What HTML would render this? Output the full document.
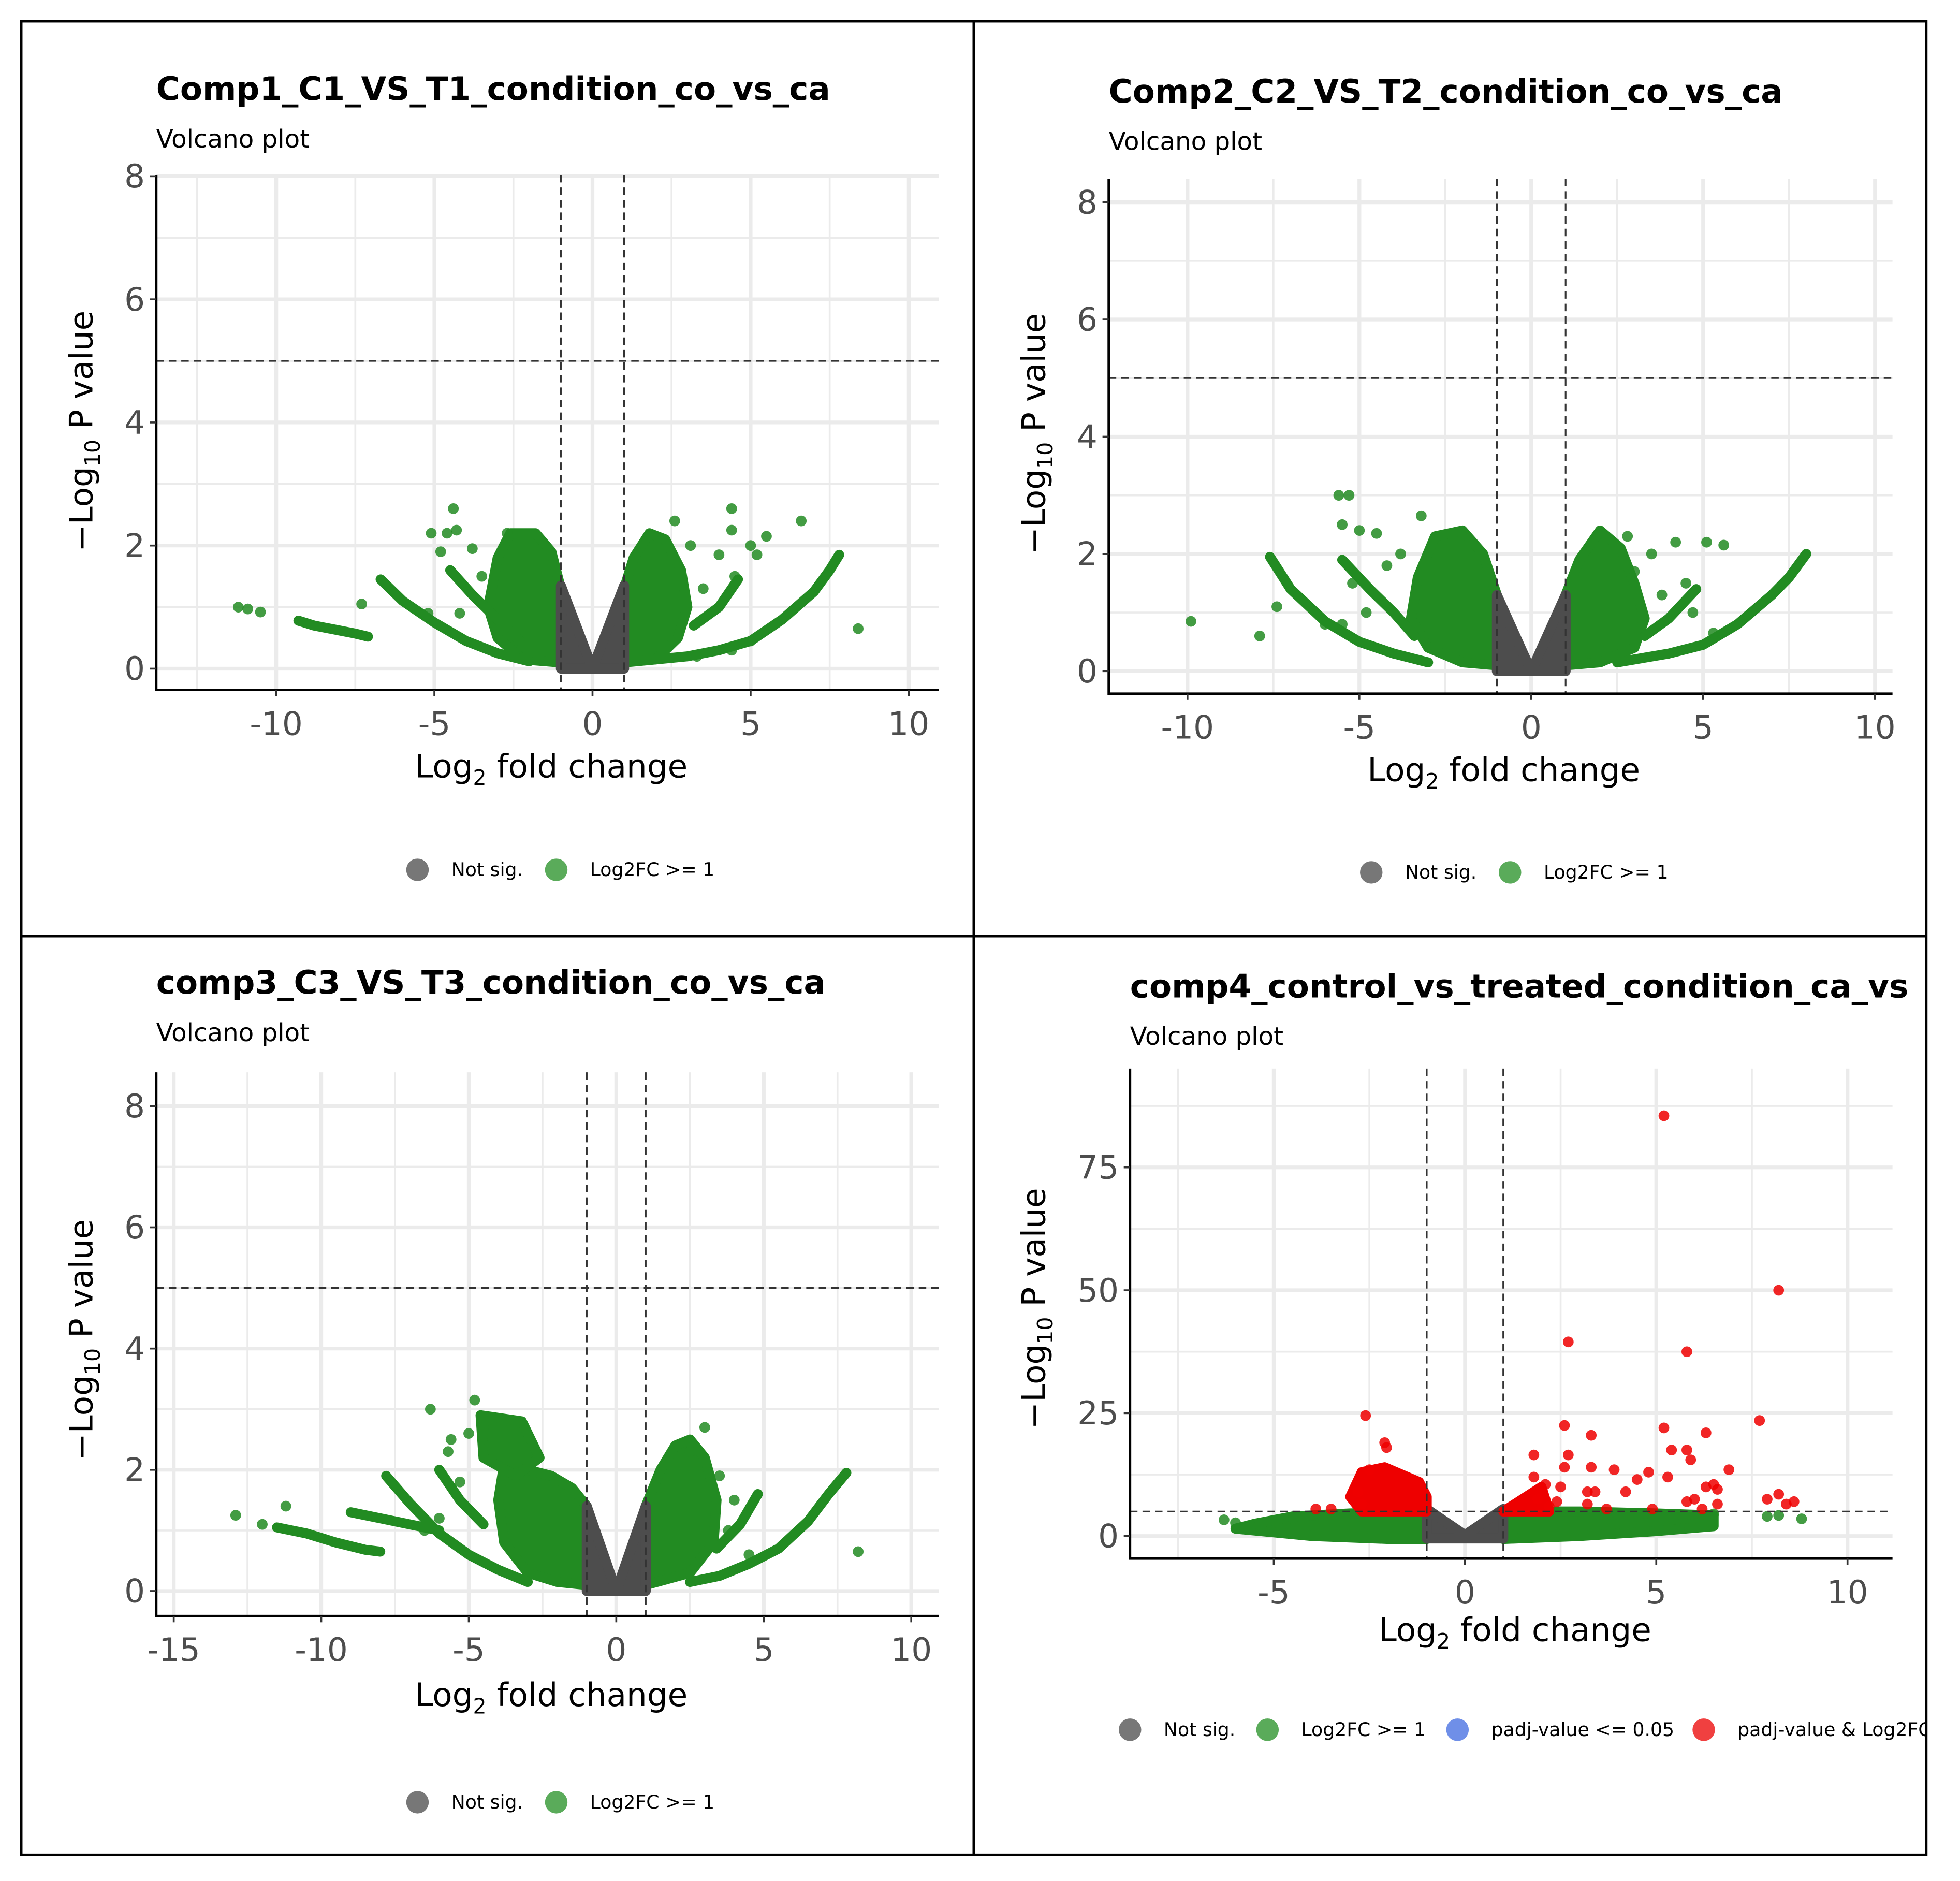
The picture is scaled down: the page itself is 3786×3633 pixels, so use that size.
<!DOCTYPE html>
<html><head><meta charset="utf-8"><style>
html,body{margin:0;padding:0;background:#fff}
svg{display:block}
text{font-family:"DejaVu Sans","Liberation Sans",sans-serif}
</style></head><body>
<svg id="root" xmlns="http://www.w3.org/2000/svg" width="3786" height="3633" viewBox="0 0 1568 1505" preserveAspectRatio="none">
<defs><clipPath id="clipR"><rect x="0" y="0" width="1540" height="1505"/></clipPath></defs>
<rect x="0" y="0" width="1568" height="1505" fill="#fff"/>
<rect x="17" y="17" width="1524" height="1467" fill="#fff" stroke="#000" stroke-width="2"/>
<line x1="779" y1="17" x2="779" y2="1484" stroke="#000" stroke-width="2"/>
<line x1="17" y1="749" x2="1541" y2="749" stroke="#000" stroke-width="2"/>
</svg>
<script>
// ---------- Panel 1 data ----------
const p1Xticks=[-10,-5,0,5,10];
const p1Yticks=[0,2,4,6,8];
const p1Grey=[[-1,1.35],[0,0],[1,1.35],[1,0],[-1,0]];
const p1ClusterL=[[-1,1.3],[-1.3,1.9],[-1.8,2.2],[-2.6,2.2],[-3,1.8],[-3.3,1.0],[-3,0.5],[-2.2,0.15],[-1,0.1]];
const p1ClusterR=[[1,1.3],[1.3,1.8],[1.8,2.2],[2.3,2.1],[2.8,1.6],[3.0,1.0],[2.7,0.5],[2,0.15],[1,0.1]];
const p1Arcs=[
 [[-6.7,1.45],[-6,1.1],[-5,0.75],[-4,0.45],[-3,0.25],[-2,0.12]],
 [[-4.5,1.6],[-3.8,1.2],[-3,0.8],[-2.3,0.45]],
 [[-9.3,0.78],[-8.8,0.7],[-8,0.62],[-7.5,0.57],[-7.1,0.52]],
 [[2,0.15],[3,0.2],[4,0.3],[5,0.45],[6,0.8],[7,1.25],[7.5,1.6],[7.8,1.85]],
 [[3.2,0.7],[4,1.0],[4.6,1.45]]];
const p1Pts=[[-11.2,1.0],[-10.9,0.97],[-10.5,0.92],[-7.3,1.05],[-5.1,2.2],[-4.4,2.6],[-4.6,2.2],[-4.3,2.25],[-4.8,1.9],[-3.8,1.95],[-5.2,0.9],[-4.2,0.9],[-3.5,1.5],[-2.7,2.2],
 [8.4,0.65],[4.4,2.6],[6.6,2.4],[5.5,2.15],[4.4,2.25],[5,2.0],[5.2,1.85],[2.6,2.4],[3.1,2.0],[4.5,1.5],[4,1.85],[3.5,1.3],[4.4,0.3],[5,0.45],[3.3,0.2]];
// ---------- Panel 2 data ----------
const p2Xticks=[-10,-5,0,5,10];
const p2Yticks=[0,2,4,6,8];
const p2Grey=[[-1,1.3],[0,0],[1,1.3],[1,0],[-1,0]];
const p2ClusterL=[[-1,1.3],[-1.4,2],[-2,2.4],[-2.8,2.3],[-3.3,1.6],[-3.5,0.9],[-3,0.4],[-2,0.15],[-1,0.1]];
const p2ClusterR=[[1,1.3],[1.4,1.9],[2,2.4],[2.6,2.1],[3,1.5],[3.3,0.9],[3,0.4],[2,0.15],[1,0.1]];
const p2Arcs=[
 [[-7.6,1.95],[-7,1.4],[-6,0.85],[-5,0.5],[-4,0.3],[-3,0.15]],
 [[-5.5,1.9],[-4.7,1.4],[-4,1.0],[-3.4,0.6]],
 [[2.5,0.15],[4,0.3],[5,0.45],[6,0.8],[7,1.3],[7.5,1.6],[8,2.0]],
 [[3.3,0.6],[4,0.9],[4.8,1.4]]];
const p2Pts=[[-9.9,0.85],[-7.9,0.6],[-7.4,1.1],[-5.6,3.0],[-5.3,3.0],[-5.5,2.5],[-4.5,2.35],[-3.2,2.65],[-5,2.4],[-5.2,1.5],[-4.8,1.0],[-4.2,1.8],[-6,0.8],[-5.5,0.8],[-3.8,2.0],
 [2.8,2.3],[3.5,2.0],[3,1.7],[4.2,2.2],[5.6,2.15],[5.1,2.2],[4.5,1.5],[3.8,1.3],[4.7,1.0],[5.3,0.65]];
// ---------- Panel 3 data ----------
const p3Xticks=[-15,-10,-5,0,5,10];
const p3Yticks=[0,2,4,6,8];
const p3Grey=[[-1,1.4],[0,0],[1,1.4],[1,0],[-1,0]];
const p3ClusterL=[[-1,1.4],[-1.5,1.7],[-2.2,1.9],[-3.8,2.1],[-4,1.5],[-3.8,0.8],[-3,0.3],[-2,0.15],[-1,0.1]];
const p3ClusterU=[[-4.6,2.9],[-3.2,2.8],[-2.6,2.2],[-3.4,1.9],[-4.5,2.2]];
const p3ClusterR=[[1,1.4],[1.5,2.0],[2,2.4],[2.5,2.5],[3,2.2],[3.4,1.5],[3.3,0.8],[2.5,0.3],[1,0.1]];
const p3Arcs=[
 [[-7.8,1.9],[-7,1.45],[-6,0.95],[-5,0.6],[-4,0.35],[-3,0.15]],
 [[-11.5,1.05],[-10.5,0.95],[-9.5,0.8],[-8.5,0.68],[-8,0.65]],
 [[-9,1.3],[-8,1.2],[-7,1.1],[-6,1.0]],
 [[-6,2.0],[-5.3,1.5],[-4.5,1.1]],
 [[2.5,0.15],[3.5,0.25],[4.5,0.45],[5.5,0.7],[6.5,1.15],[7.2,1.6],[7.8,1.95]],
 [[3.4,0.7],[4.2,1.1],[4.8,1.6]]];
const p3Pts=[[-12.9,1.25],[-12,1.1],[-11.2,1.4],[-6.3,3.0],[-5.7,2.3],[-5.6,2.5],[-4.8,3.15],[-5,2.6],[-4.5,2.7],[-4.3,2.4],[-5.3,1.8],[-6,1.2],[-6.5,1.0],
 [8.2,0.65],[3,2.7],[2.5,2.3],[3.5,1.9],[4,1.5],[3.8,1.0],[4.5,0.6]];
// ---------- Panel 4 data ----------
const p4Xticks=[-5,0,5,10];
const p4Yticks=[0,25,50,75];
const p4Grey=[[-1,5.5],[0,0.2],[1,5.5],[1,-0.5],[-1,-0.5]];
const p4GreenL=[[-1,5],[-3,4.6],[-4.5,4],[-5.5,2.5],[-6,1.5],[-4,0],[-2,-0.6],[-1,-0.6]];
const p4GreenR=[[1,5],[3,5],[5,4.6],[6.5,4.2],[6.5,2],[5,1],[3,0],[1,-0.6]];
const p4RedL=[[-2.7,13],[-2.1,14],[-1.2,11],[-1,8],[-1,5],[-2.7,5],[-3,8]];
const p4RedR=[[1,5],[1.5,7.5],[2,10],[2.2,5]];
const p4Red=[[-2.6,24.5],[-2.1,19],[-2.05,18],[-2.5,13.5],[-2.8,9],[-2.7,6.5],[-3.5,5.5],[-3.9,5.5],[2.7,39.5],[5.2,85.5],[8.2,50],[5.8,37.5],[2.6,22.5],[3.3,20.5],[5.2,22],[6.3,21],[7.7,23.5],[1.8,16.5],[2.7,16.5],[5.4,17.5],[5.8,17.5],[5.9,15.5],[3.3,14],[3.9,13.5],[4.8,13],[6.9,13.5],[2.6,14],[1.8,12],[4.5,11.5],[5.3,12],[2.1,10.5],[2.5,10],[3.2,9],[3.4,9],[6.3,10],[6.5,10.5],[6.6,9.5],[8.2,8.5],[7.9,7.5],[8.6,7],[8.4,6.5],[6,7.5],[5.8,7],[6.6,6.5],[1.9,7.5],[2.4,7],[3.2,6.5],[2.2,6],[3.7,5.5],[4.2,9],[4.9,5.5],[6.2,5.5]];
const p4Green=[[-6.3,3.3],[-6,2.7],[-5.6,2.0],[7.9,4.0],[8.2,4.2],[8.8,3.5],[6.5,4.5],[6.1,3.5],[5.6,1.5],[-4.5,3.5],[4,4.5]];

const NS="http://www.w3.org/2000/svg";
const root=document.getElementById('root');
function mk(tag,attrs,parent){const e=document.createElementNS(NS,tag);for(const k in attrs)e.setAttribute(k,attrs[k]);(parent||root).appendChild(e);return e;}
const GREEN="#228B22",GREY="#4d4d4d",RED="#ee0000";

function panel(c){
  const g=mk('g',{});
  
  
  const X=v=>c.x0+(v-c.xv0)*c.xs, Y=v=>c.y0-(v)*c.ys;
  const t=mk('text',{x:c.left,y:c.ty,'font-size':26,'font-weight':'bold',fill:'#000','clip-path':'url(#clipR)'},g);t.textContent=c.title;
  
  
  const st=mk('text',{x:c.left,y:c.ty+38,'font-size':20,fill:'#000'},g);st.textContent='Volcano plot';
  
  
  const minorX=[];for(let i=0;i<c.xticks.length-1;i++)minorX.push((c.xticks[i]+c.xticks[i+1])/2);
  minorX.push(c.xticks[0]-(c.xticks[1]-c.xticks[0])/2);
  const minorY=[];for(let i=0;i<c.yticks.length-1;i++)minorY.push((c.yticks[i]+c.yticks[i+1])/2);
  minorY.push(c.yticks[c.yticks.length-1]+(c.yticks[1]-c.yticks[0])/2);
  minorX.forEach(v=>{const px=X(v);if(px>c.left&&px<c.right){const l=mk('line',{x1:px,x2:px,y1:c.top,y2:c.bottom,stroke:'#ebebeb','stroke-width':1.5},g);}});
  minorY.forEach(v=>{const py=Y(v);if(py>c.top&&py<c.bottom){const l=mk('line',{x1:c.left,x2:c.right,y1:py,y2:py,stroke:'#ebebeb','stroke-width':1.5},g);}});
  c.xticks.forEach(v=>{const l=mk('line',{x1:X(v),x2:X(v),y1:c.top,y2:c.bottom,stroke:'#ebebeb','stroke-width':3},g);});
  c.yticks.forEach(v=>{const l=mk('line',{x1:c.left,x2:c.right,y1:Y(v),y2:Y(v),stroke:'#ebebeb','stroke-width':3},g);});
  const poly=(pts,fill,name)=>{const p=mk('polygon',{points:pts.map(q=>X(q[0])+','+Y(q[1])).join(' '),fill:fill,stroke:fill,'stroke-width':8,'stroke-linejoin':'round'},g);};
  const line=(pts,col,name)=>{const p=mk('polyline',{points:pts.map(q=>X(q[0])+','+Y(q[1])).join(' '),fill:'none',stroke:col,'stroke-width':8,'stroke-linecap':'round','stroke-linejoin':'round'},g);};
  const dot=(q,col,name)=>{const d=mk('circle',{cx:X(q[0]),cy:Y(q[1]),r:4.3,fill:col,'fill-opacity':0.85},g);};
  (c.greens||[]).forEach(p=>poly(p,GREEN,'green-cluster'));
  (c.arcs||[]).forEach(a=>line(a,GREEN,'green-arc'));
  poly(c.grey,GREY,'not-sig-cluster');
  (c.pts||[]).forEach(q=>dot(q,GREEN,'green-point'));
  (c.reds||[]).forEach(p=>poly(p,RED,'red-cluster'));
  (c.redPts||[]).forEach(q=>dot(q,RED,'red-point'));
  [-1,1].forEach(v=>{const l=mk('line',{x1:X(v),x2:X(v),y1:c.top,y2:c.bottom,stroke:'#333','stroke-width':1.3,'stroke-dasharray':'6,4'},g);});
  const h=mk('line',{x1:c.left,x2:c.right,y1:Y(5),y2:Y(5),stroke:'#333','stroke-width':1.3,'stroke-dasharray':'6,4'},g);
  const ax=mk('polyline',{points:`${c.left},${c.top} ${c.left},${c.bottom} ${c.right},${c.bottom}`,fill:'none',stroke:'#000','stroke-width':2},g);
  
  c.xticks.forEach(v=>{mk('line',{x1:X(v),x2:X(v),y1:c.bottom,y2:c.bottom+5,stroke:'#333','stroke-width':1.5},g);
    const tt=mk('text',{x:X(v),y:c.bottom+36,'font-size':26,fill:'#4d4d4d','text-anchor':'middle'},g);tt.textContent=String(v);
    });
  c.yticks.forEach(v=>{mk('line',{x1:c.left-5,x2:c.left,y1:Y(v),y2:Y(v),stroke:'#333','stroke-width':1.5},g);
    const tt=mk('text',{x:c.left-9,y:Y(v)+9,'font-size':26,fill:'#4d4d4d','text-anchor':'end'},g);tt.textContent=String(v);
    });
  const xt=mk('text',{x:c.xtx,y:c.xty,'font-size':26,fill:'#000','text-anchor':'middle'},g);
  xt.innerHTML='Log<tspan font-size="17" dy="6">2</tspan><tspan dy="-6"> fold change</tspan>';
  
  const yt=mk('text',{x:0,y:0,'font-size':26,fill:'#000','text-anchor':'middle',transform:`translate(${c.ytx},${c.yty}) rotate(-90)`},g);
  yt.innerHTML='\u2212Log<tspan font-size="17" dy="6">10</tspan><tspan dy="-6">  P value</tspan>';
  
  c.legend.forEach(L=>{const cc=mk('circle',{cx:L[0],cy:c.ly,r:9,fill:L[1]},g);
    const lt=mk('text',{x:L[0]+27,y:c.ly+5,'font-size':15,fill:'#000','clip-path':'url(#clipR)'},g);lt.textContent=L[2];
    });
}
panel({id:'panel-comp1',title:'Comp1_C1_VS_T1_condition_co_vs_ca',left:125,right:751,top:140,bottom:552,ty:80,
  x0:474,xv0:0,xs:25.3,y0:535,ys:49.25,xticks:p1Xticks,yticks:p1Yticks,grey:p1Grey,greens:[p1ClusterL,p1ClusterR],arcs:p1Arcs,pts:p1Pts,
  xtx:441,xty:622,ytx:74,yty:345,ly:696,legend:[[334,'#777','Not sig.'],[445,'#5aab5a','Log2FC >= 1']]});
panel({id:'panel-comp2',title:'Comp2_C2_VS_T2_condition_co_vs_ca',left:887,right:1514,top:143,bottom:555,ty:82,
  x0:1225,xv0:0,xs:27.5,y0:537,ys:46.9,xticks:p2Xticks,yticks:p2Yticks,grey:p2Grey,greens:[p2ClusterL,p2ClusterR],arcs:p2Arcs,pts:p2Pts,
  xtx:1203,xty:625,ytx:836,yty:347,ly:698,legend:[[1097,'#777','Not sig.'],[1208,'#5aab5a','Log2FC >= 1']]});
panel({id:'panel-comp3',title:'comp3_C3_VS_T3_condition_co_vs_ca',left:125,right:751,top:858,bottom:1293,ty:795,
  x0:493,xv0:0,xs:23.6,y0:1273,ys:48.5,xticks:p3Xticks,yticks:p3Yticks,grey:p3Grey,greens:[p3ClusterL,p3ClusterU,p3ClusterR],arcs:p3Arcs,pts:p3Pts,
  xtx:441,xty:1365,ytx:74,yty:1072,ly:1442,legend:[[334,'#777','Not sig.'],[445,'#5aab5a','Log2FC >= 1']]});
panel({id:'panel-comp4',title:'comp4_control_vs_treated_condition_ca_vs',left:904,right:1514,top:855,bottom:1247,ty:798,
  x0:1172,xv0:0,xs:30.6,y0:1229,ys:3.933,xticks:p4Xticks,yticks:p4Yticks,grey:p4Grey,greens:[p4GreenL,p4GreenR],arcs:[],pts:p4Green,
  reds:[p4RedL,p4RedR],redPts:p4Red,
  xtx:1212,xty:1313,ytx:836,yty:1047,ly:1384,legend:[[904,'#777','Not sig.'],[1014,'#5aab5a','Log2FC >= 1'],[1166,'#6f8fe8','padj-value <= 0.05'],[1363,'#f04040','padj-value & Log2FC']]});
</script>
</body></html>
